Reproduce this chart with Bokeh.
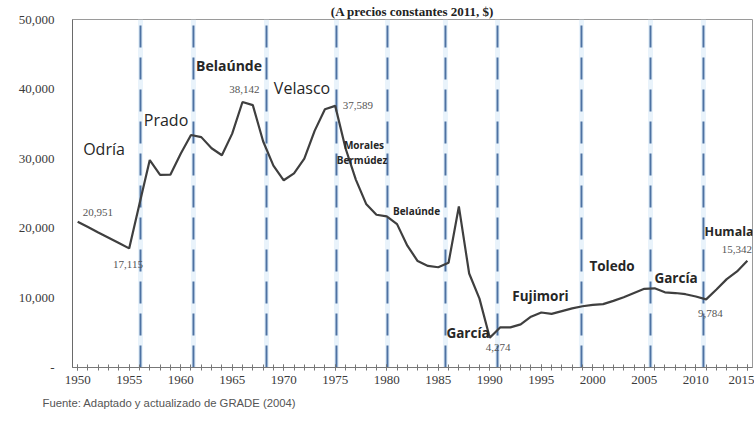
from bokeh.plotting import figure
from bokeh.models import Range1d, FixedTicker, NumeralTickFormatter, Label, ColumnDataSource, Title
from bokeh.embed import file_html
from bokeh.resources import INLINE

years = list(range(1950, 2016))
values = [20951, 20180, 19400, 18650, 17900, 17115, 23500, 29800, 27670, 27700,
          30700, 33400, 33100, 31500, 30500, 33600, 38142, 37700, 32500, 29000,
          26900, 27900, 30000, 34000, 37100, 37589, 31500, 27000, 23500, 21950,
          21710, 20600, 17500, 15300, 14600, 14400, 15040, 23140, 13500, 9900,
          4274, 5760, 5760, 6200, 7300, 7900, 7700, 8100, 8500, 8800,
          9000, 9100, 9570, 10100, 10700, 11300, 11380, 10800, 10700, 10530,
          10200, 9784, 11200, 12700, 13800, 15342]

period_breaks = [1956.1, 1961.24, 1968.33, 1975.12, 1980.07, 1985.7, 1990.75, 1998.9, 2005.6, 2010.74]

period_names = ["Odría", "Prado", "Belaúnde", "Velasco", "Morales", "Bermúdez", "Belaúnde",
                "García", "Fujimori", "Toledo", "García", "Humala"]
period_x = [1952.56, 1958.58, 1964.69, 1971.78, 1977.79, 1977.6, 1982.89,
            1987.89, 1994.92, 2001.86, 2008.08, 2010.85]
period_y = [31430, 35570, 43430, 40140, 32000, 29860, 22430,
            5000, 10290, 14570, 12860, 19570]
period_size = ["16px", "16px", "14px", "16px", "10px", "10px", "10px",
               "13.5px", "13.5px", "13.5px", "13.5px", "12.5px"]
period_bold = [False, False, True, False, True, True, True, True, True, True, True, True]
period_align = ["center"] * 11 + ["left"]

value_labels = ["20,951", "17,115", "38,142", "37,589", "4,274", "9,784", "15,342"]
value_x = [1951.97, 1954.89, 1966.19, 1977.21, 1990.8, 2011.42, 2015.45]
value_y = [22290, 14810, 40000, 37670, 2900, 7810, 16960]
value_align = ["center", "center", "center", "center", "center", "center", "right"]

y_ticks = [0, 10000, 20000, 30000, 40000, 50000]
x_ticks = list(range(1950, 2016, 5))

title_text = "(A precios constantes 2011, $)"
source_text = "Fuente: Adaptado y actualizado de GRADE (2004)"

p = figure(width=754, height=429, output_backend="svg", toolbar_location=None,
           x_range=Range1d(1949.5, 2015.5), y_range=Range1d(0, 50000),
           min_border_left=72, min_border_right=2, min_border_top=17, min_border_bottom=62)
p.title.text = title_text
p.title.align = "center"
p.title.offset = -31
p.title.standoff = 2
p.title.text_font = "Liberation Serif"
p.title.text_font_size = "13px"
p.title.text_font_style = "bold"
p.title.text_color = "#222222"

p.xgrid.visible = False
p.ygrid.visible = False
p.background_fill_color = "white"
p.border_fill_color = "white"
p.outline_line_color = "#9a9a9a"
p.outline_line_width = 1

# period separators (halo + dashed)
p.segment(x0=period_breaks, y0=[0] * len(period_breaks), x1=period_breaks,
          y1=[50000] * len(period_breaks), line_color="#e4f0fa", line_width=5, line_alpha=0.8)
p.segment(x0=period_breaks, y0=[0] * len(period_breaks), x1=period_breaks,
          y1=[50000] * len(period_breaks), line_color="#4d72a3", line_width=2,
          line_dash="22 10")

src = ColumnDataSource(dict(year=years, value=values))
p.line("year", "value", source=src, line_color="#3f3f3f", line_width=2.2)

# axes
xa = p.xaxis[0]
xa.ticker = FixedTicker(ticks=x_ticks, minor_ticks=years)
xa.axis_line_color = "#777777"
xa.major_tick_line_color = "#777777"
xa.minor_tick_line_color = "#777777"
xa.major_tick_in = 3
xa.major_tick_out = 3
xa.minor_tick_in = 3
xa.minor_tick_out = 3
xa.major_label_standoff = 5
xa.major_label_text_font = "Liberation Serif"
xa.major_label_text_font_size = "13px"
xa.major_label_text_color = "#3a3a3a"

ya = p.yaxis[0]
ya.ticker = FixedTicker(ticks=y_ticks)
ya.formatter = NumeralTickFormatter(format="0,0")
ya.major_label_overrides = {0: "-"}
ya.axis_line_color = "#6a6a6a"
ya.major_tick_in = 0
ya.major_tick_out = 0
ya.minor_tick_line_color = None
ya.major_label_standoff = 18
ya.major_label_text_font = "Liberation Serif"
ya.major_label_text_font_size = "13px"
ya.major_label_text_color = "#3a3a3a"

for name, x, y, size, bold, align in zip(period_names, period_x, period_y, period_size,
                                         period_bold, period_align):
    p.add_layout(Label(x=x, y=y, text=name, text_font="Open Sans", text_font_size=size,
                       text_font_style="bold" if bold else "normal", text_color="#262626",
                       text_align=align, text_baseline="middle"))

for t, x, y, align in zip(value_labels, value_x, value_y, value_align):
    p.add_layout(Label(x=x, y=y, text=t, text_font="Liberation Serif", text_font_size="11px",
                       text_color="#555555", text_align=align, text_baseline="middle"))

source_title = Title(text=source_text, align="left", offset=-30, standoff=17,
                     text_font="Liberation Sans", text_font_size="11.3px",
                     text_font_style="normal", text_color="#555555")
p.add_layout(source_title, "below")

open("out.html", "w").write(file_html(p, INLINE))
